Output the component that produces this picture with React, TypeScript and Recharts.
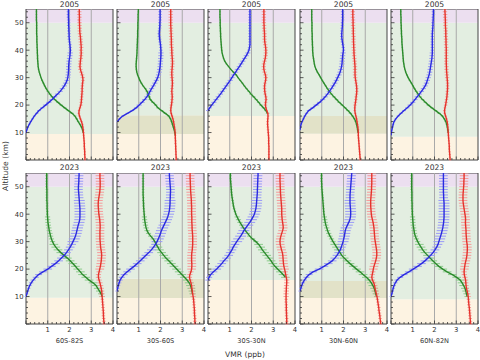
import React from 'react';
import { ScatterChart, Scatter, XAxis, YAxis, ReferenceArea, ReferenceLine, ErrorBar } from 'recharts';

const _ = null;
type V = number | null;

// altitude grid (km)
const ALT: number[] = [0,1,2,3,4,5,6,7,8,9,10,11,12,13,14,15,16,17,18,19,20,21,22,23,24,25,26,27,28,29,30,31,32,33,34,35,36,37,38,39,40,41,42,43,44,45,46,47,48,49,50,51,52,53,54,55];

// ---------- 2005 ----------
const red05_1: V[] = [2.71,2.71,2.7,2.7,2.69,2.68,2.68,2.67,2.66,2.65, 2.64,2.63,2.61,2.59,2.55,2.5,2.46,2.43,2.44,2.48, 2.52,2.54,2.55,2.56,2.57,2.58,2.58,2.59,2.6,2.62, 2.61,2.58,2.54,2.5,2.48,2.49,2.5,2.52,2.53,2.54, 2.53,2.54,2.53,2.52,2.51,2.5,2.48,2.47,2.47,2.46, 2.46,2.45,2.46,2.45,2.45,2.45];
const blue05_1: V[] = [_,_,_,_,_,_,_,_,_,_, 0,0.04,0.09,0.15,0.22,0.3,0.38,0.49,0.6,0.75, 0.9,1.05,1.2,1.32,1.45,1.57,1.67,1.76,1.83,1.89, 1.92,1.94,1.95,1.96,1.96,1.97,1.98,2.0,2.02,2.03, 2.04,2.03,2.02,2.0,1.99,1.98,1.98,1.97,1.97,1.96, 1.96,1.96,1.95,1.95,1.95,1.95];
const green05_1: V[] = [_,_,_,_,_,_,_,_,_,_, 2.63,2.6,2.55,2.48,2.4,2.33,2.25,2.12,1.95,1.78, 1.62,1.47,1.32,1.2,1.1,1.01,0.93,0.86,0.8,0.74, 0.69,0.65,0.61,0.58,0.56,0.55,0.54,0.53,0.53,0.52, 0.52,0.51,0.51,0.5,0.5,0.5,0.49,0.49,0.49,0.49, 0.49,0.48,0.48,0.48,0.48,0.48];

const red05_2: V[] = [2.72,2.72,2.71,2.71,2.7,2.7,2.69,2.69,2.68,2.68, 2.67,2.66,2.64,2.62,2.6,2.57,2.53,2.49,2.47,2.48, 2.5,2.52,2.53,2.54,2.53,2.52,2.53,2.54,2.55,2.54, 2.53,2.52,2.52,2.53,2.54,2.55,2.55,2.54,2.53,2.52, 2.52,2.51,2.5,2.5,2.5,2.49,2.49,2.48,2.48,2.47, 2.47,2.47,2.47,2.47,2.47,2.47];
const blue05_2: V[] = [_,_,_,_,_,_,_,_,_,_, _,_,_,_,0.02,0.12,0.26,0.48,0.7,0.88, 1.02,1.15,1.27,1.37,1.45,1.52,1.59,1.67,1.74,1.81, 1.87,1.91,1.94,1.96,1.98,1.99,2.0,2.01,2.02,2.02, 2.02,2.01,2.0,1.98,1.96,1.95,1.94,1.95,1.96,1.97, 1.97,1.98,1.98,1.98,1.98,1.98];
const green05_2: V[] = [_,_,_,_,_,_,_,_,_,2.68, 2.66,2.63,2.59,2.55,2.51,2.46,2.38,2.22,2.05,1.88, 1.78,1.65,1.53,1.48,1.44,1.38,1.3,1.2,1.12,1.05, 1.0,0.95,0.91,0.89,0.88,0.88,0.89,0.9,0.91,0.92, 0.92,0.93,0.93,0.94,0.94,0.95,0.95,0.95,0.96,0.96, 0.96,0.97,0.97,0.97,0.98,0.98];

const red05_3: V[] = [2.8,2.8,2.8,2.8,2.8,2.8,2.79,2.79,2.79,2.78, 2.77,2.76,2.75,2.74,2.74,2.75,2.76,2.75,2.7,2.66, 2.64,2.65,2.67,2.66,2.63,2.61,2.6,2.6,2.62,2.65, 2.66,2.64,2.6,2.57,2.56,2.57,2.6,2.63,2.65,2.66, 2.66,2.65,2.63,2.61,2.6,2.6,2.6,2.59,2.58,2.58, 2.57,2.57,2.57,2.57,2.57,2.57];
const blue05_3: V[] = [_,_,_,_,_,_,_,_,_,_, _,_,_,_,_,_,_,_,0,0.08, 0.17,0.27,0.37,0.47,0.57,0.66,0.75,0.84,0.93,1.02, 1.1,1.18,1.27,1.35,1.44,1.52,1.6,1.68,1.76,1.83, 1.88,1.91,1.93,1.93,1.93,1.93,1.93,1.93,1.93,1.93, 1.93,1.93,1.93,1.93,1.93,1.93];
const green05_3: V[] = [_,_,_,_,_,_,_,_,_,_, _,_,_,_,_,_,_,2.74,2.66,2.55, 2.43,2.33,2.22,2.1,1.98,1.88,1.77,1.67,1.58,1.48, 1.38,1.3,1.17,1.05,0.95,0.85,0.77,0.72,0.68,0.65, 0.63,0.62,0.61,0.6,0.59,0.58,0.58,0.57,0.57,0.56, 0.56,0.56,0.55,0.55,0.55,0.55];

const red05_4: V[] = [2.77,2.76,2.75,2.74,2.73,2.72,2.71,2.7,2.69,2.68, 2.68,2.67,2.66,2.64,2.62,2.6,2.57,2.54,2.52,2.52, 2.53,2.55,2.57,2.58,2.6,2.61,2.61,2.6,2.58,2.56, 2.54,2.53,2.53,2.53,2.53,2.52,2.51,2.5,2.49,2.48, 2.48,2.47,2.47,2.46,2.46,2.46,2.45,2.45,2.45,2.44, 2.44,2.44,2.43,2.43,2.43,2.43];
const blue05_4: V[] = [_,_,_,_,_,_,_,_,_,_, _,0,0.02,0.05,0.1,0.16,0.22,0.3,0.4,0.58, 0.74,0.9,1.04,1.16,1.26,1.35,1.44,1.52,1.6,1.67, 1.73,1.79,1.84,1.88,1.91,1.93,1.94,1.95,1.96,1.98, 2.0,1.99,1.97,1.95,1.93,1.92,1.92,1.93,1.94,1.95, 1.95,1.96,1.96,1.96,1.96,1.96];
const green05_4: V[] = [_,_,_,_,_,_,_,_,_,_, 2.67,2.65,2.63,2.6,2.56,2.5,2.42,2.32,2.2,2.07, 1.94,1.8,1.68,1.56,1.45,1.35,1.26,1.18,1.1,1.02, 0.95,0.88,0.8,0.74,0.69,0.66,0.64,0.62,0.6,0.59, 0.58,0.58,0.57,0.57,0.56,0.56,0.56,0.55,0.55,0.55, 0.55,0.54,0.54,0.54,0.54,0.54];

const red05_5: V[] = [2.72,2.71,2.7,2.69,2.68,2.68,2.67,2.66,2.65,2.64, 2.63,2.62,2.61,2.6,2.58,2.55,2.51,2.47,2.46,2.48, 2.51,2.53,2.55,2.57,2.58,2.59,2.6,2.6,2.6,2.59, 2.58,2.57,2.56,2.55,2.55,2.54,2.54,2.54,2.54,2.54, 2.54,2.54,2.53,2.53,2.53,2.52,2.52,2.52,2.51,2.5, 2.5,2.5,2.49,2.49,2.48,2.48];
const blue05_5: V[] = [_,_,_,_,_,_,_,_,_,0, 0.02,0.04,0.07,0.1,0.14,0.22,0.33,0.46,0.6,0.75, 0.88,1.0,1.1,1.2,1.3,1.4,1.49,1.57,1.63,1.67, 1.71,1.75,1.78,1.8,1.82,1.84,1.86,1.88,1.89,1.9, 1.9,1.9,1.9,1.9,1.9,1.9,1.9,1.91,1.92,1.93, 1.93,1.94,1.94,1.95,1.95,1.95];
const green05_5: V[] = [_,_,_,_,_,_,_,_,_,_, 2.63,2.61,2.59,2.56,2.52,2.45,2.36,2.22,2.05,1.88, 1.72,1.58,1.45,1.34,1.25,1.16,1.08,1.01,0.94,0.86, 0.79,0.73,0.68,0.64,0.61,0.59,0.57,0.56,0.55,0.54, 0.53,0.52,0.51,0.5,0.5,0.49,0.48,0.48,0.47,0.47, 0.46,0.46,0.46,0.45,0.45,0.45];

// ---------- 2023 ----------
const red23_1: V[] = [3.59,3.58,3.57,3.56,3.56,3.55,3.54,3.53,3.52,3.51, 3.5,3.49,3.48,3.46,3.43,3.4,3.36,3.33,3.33,3.36, 3.39,3.42,3.44,3.46,3.47,3.48,3.47,3.45,3.43,3.42, 3.41,3.4,3.4,3.4,3.4,3.41,3.41,3.4,3.39,3.37, 3.35,3.34,3.33,3.32,3.32,3.33,3.35,3.37,3.39,3.4, 3.41,3.41,3.41,3.4,3.4,3.4];
const blue23_1: V[] = [_,_,_,_,_,_,_,_,_,_, 0,0.04,0.08,0.12,0.17,0.24,0.33,0.45,0.58,0.78, 1.0,1.17,1.35,1.5,1.63,1.76,1.86,1.95,2.03,2.1, 2.16,2.22,2.27,2.31,2.34,2.37,2.4,2.44,2.47,2.48, 2.48,2.48,2.48,2.47,2.46,2.45,2.44,2.43,2.42,2.41, 2.41,2.42,2.43,2.43,2.44,2.44];
const green23_1: V[] = [_,_,_,_,_,_,_,_,_,_, 3.5,3.45,3.38,3.3,3.22,3.08,2.9,2.75,2.6,2.5, 2.38,2.27,2.15,2.03,1.9,1.75,1.6,1.47,1.37,1.28, 1.22,1.17,1.13,1.1,1.07,1.05,1.03,1.01,1.0,0.99, 0.98,0.98,0.97,0.97,0.97,0.96,0.96,0.96,0.96,0.96, 0.95,0.95,0.95,0.95,0.95,0.95];

const red23_2: V[] = [3.59,3.58,3.58,3.57,3.56,3.56,3.55,3.54,3.53,3.52, 3.5,3.48,3.46,3.44,3.43,3.4,3.36,3.33,3.35,3.4, 3.43,3.44,3.44,3.43,3.43,3.43,3.44,3.46,3.47,3.48, 3.48,3.48,3.48,3.47,3.46,3.45,3.45,3.44,3.44,3.44, 3.43,3.43,3.43,3.43,3.42,3.42,3.41,3.4,3.39,3.38, 3.38,3.37,3.37,3.36,3.36,3.36];
const blue23_2: V[] = [_,_,_,_,_,_,_,_,_,_, _,_,0,0.03,0.06,0.1,0.14,0.22,0.33,0.47, 0.62,0.78,0.93,1.07,1.2,1.33,1.46,1.58,1.68,1.77, 1.84,1.9,1.95,2.0,2.04,2.1,2.16,2.22,2.28,2.33, 2.37,2.4,2.42,2.43,2.44,2.44,2.45,2.45,2.46,2.46, 2.45,2.44,2.43,2.42,2.41,2.41];
const green23_2: V[] = [_,_,_,_,_,_,_,_,_,_, _,3.47,3.45,3.42,3.38,3.32,3.22,3.1,2.98,2.86, 2.74,2.62,2.5,2.38,2.25,2.15,2.05,1.95,1.88,1.8, 1.74,1.66,1.55,1.45,1.38,1.34,1.31,1.29,1.27,1.26, 1.25,1.24,1.23,1.22,1.22,1.21,1.21,1.2,1.2,1.2, 1.2,1.2,1.2,1.2,1.2,1.2];

const red23_3: V[] = [3.62,3.62,3.62,3.61,3.61,3.6,3.6,3.6,3.59,3.59, 3.59,3.59,3.6,3.6,3.61,3.62,3.62,3.6,3.57,3.55, 3.52,3.49,3.47,3.46,3.45,3.44,3.42,3.38,3.35,3.32, 3.31,3.32,3.35,3.39,3.43,3.46,3.45,3.43,3.41,3.4, 3.39,3.39,3.39,3.38,3.37,3.36,3.35,3.34,3.33,3.33, 3.32,3.32,3.31,3.31,3.31,3.31];
const blue23_3: V[] = [_,_,_,_,_,_,_,_,_,_, _,_,_,_,_,_,0,0.05,0.12,0.25, 0.4,0.52,0.63,0.73,0.85,0.95,1.02,1.1,1.16,1.24, 1.32,1.41,1.5,1.58,1.65,1.74,1.83,1.92,2.0,2.07, 2.13,2.17,2.2,2.22,2.23,2.24,2.25,2.26,2.27,2.27, 2.28,2.28,2.29,2.29,2.3,2.3];
const green23_3: V[] = [_,_,_,_,_,_,_,_,_,_, _,_,_,_,_,_,_,3.56,3.45,3.33, 3.2,3.08,2.98,2.9,2.8,2.7,2.6,2.5,2.42,2.33, 2.2,2.05,1.92,1.82,1.72,1.63,1.55,1.47,1.4,1.34, 1.28,1.24,1.2,1.17,1.15,1.13,1.11,1.09,1.08,1.07, 1.06,1.05,1.04,1.03,1.03,1.03];

const red23_4: V[] = [3.71,3.7,3.68,3.67,3.65,3.63,3.62,3.6,3.58,3.56, 3.54,3.51,3.48,3.45,3.43,3.39,3.33,3.3,3.32,3.35, 3.37,3.4,3.44,3.48,3.51,3.53,3.53,3.52,3.5,3.48, 3.46,3.44,3.43,3.42,3.41,3.4,3.38,3.36,3.33,3.3, 3.28,3.27,3.26,3.25,3.25,3.25,3.26,3.27,3.28,3.29, 3.29,3.3,3.3,3.3,3.3,3.3];
const blue23_4: V[] = [_,_,_,_,_,_,_,_,_,_, _,_,0,0.04,0.08,0.13,0.2,0.3,0.42,0.6, 0.88,1.1,1.3,1.48,1.6,1.7,1.78,1.85,1.9,1.94, 1.98,2.01,2.04,2.06,2.08,2.12,2.18,2.24,2.29,2.32, 2.33,2.33,2.32,2.31,2.3,2.3,2.3,2.3,2.31,2.32, 2.33,2.34,2.35,2.36,2.37,2.38];
const green23_4: V[] = [_,_,_,_,_,_,_,_,_,_, 3.52,3.48,3.45,3.41,3.35,3.28,3.18,3.05,2.9,2.76, 2.6,2.45,2.3,2.16,2.03,1.92,1.84,1.76,1.68,1.6, 1.52,1.45,1.38,1.32,1.27,1.23,1.19,1.16,1.14,1.12, 1.1,1.09,1.08,1.07,1.06,1.05,1.04,1.03,1.02,1.01, 1.0,1.0,0.99,0.99,0.99,0.99];

const red23_5: V[] = [3.66,3.65,3.64,3.63,3.62,3.61,3.6,3.58,3.57,3.56, 3.55,3.53,3.5,3.47,3.45,3.44,3.43,3.4,3.37,3.36, 3.37,3.39,3.41,3.44,3.47,3.49,3.5,3.51,3.51,3.5, 3.48,3.47,3.46,3.45,3.45,3.44,3.43,3.42,3.43,3.42, 3.4,3.38,3.36,3.34,3.32,3.31,3.31,3.31,3.32,3.33, 3.34,3.35,3.35,3.36,3.36,3.36];
const blue23_5: V[] = [_,_,_,_,_,_,_,_,_,_, 0,0.04,0.07,0.1,0.14,0.2,0.28,0.42,0.6,0.82, 1.02,1.22,1.4,1.56,1.7,1.82,1.93,2.02,2.1,2.16, 2.2,2.24,2.28,2.32,2.35,2.38,2.4,2.42,2.43,2.44, 2.44,2.44,2.44,2.44,2.44,2.43,2.42,2.42,2.41,2.41, 2.41,2.41,2.41,2.41,2.41,2.41];
const green23_5: V[] = [_,_,_,_,_,_,_,_,_,_, 3.5,3.47,3.44,3.4,3.34,3.27,3.18,3.02,2.82,2.58, 2.38,2.2,2.05,1.92,1.8,1.68,1.56,1.46,1.38,1.3, 1.23,1.17,1.12,1.08,1.06,1.04,1.02,1.01,1.0,0.99, 0.98,0.98,0.97,0.97,0.97,0.96,0.96,0.96,0.96,0.95, 0.95,0.95,0.95,0.95,0.95,0.95];

// ---------- uncertainties (ppb, half-width) ----------
const errRed05: number[] = [0.05,0.05,0.05,0.05,0.05,0.05,0.05,0.05,0.05,0.05, 0.06,0.06,0.06,0.06,0.06,0.06,0.06,0.06,0.06,0.06, 0.08,0.08,0.08,0.08,0.08,0.08,0.08,0.08,0.08,0.08, 0.1,0.1,0.1,0.1,0.1,0.1,0.1,0.1,0.1,0.1, 0.1,0.1,0.1,0.1,0.1,0.1,0.1,0.1,0.1,0.1, 0.1,0.1,0.1,0.1,0.1,0.1];
const errBlue05: number[] = [0,0,0,0,0,0,0,0,0,0, 0.04,0.04,0.05,0.05,0.06,0.06,0.07,0.08,0.09,0.1, 0.12,0.12,0.12,0.12,0.12,0.12,0.12,0.12,0.12,0.12, 0.12,0.12,0.12,0.12,0.12,0.12,0.12,0.12,0.12,0.12, 0.08,0.08,0.08,0.08,0.08,0.08,0.08,0.08,0.08,0.08, 0.08,0.08,0.08,0.08,0.08,0.08];
const errGreen05: number[] = [0,0,0,0,0,0,0,0,0,0, 0.04,0.04,0.05,0.05,0.06,0.06,0.07,0.08,0.08,0.08, 0.08,0.08,0.08,0.08,0.08,0.07,0.06,0.05,0.05,0.05, 0.04,0.04,0.04,0.04,0.04,0.04,0.04,0.04,0.04,0.04, 0.04,0.04,0.04,0.04,0.04,0.04,0.04,0.04,0.04,0.04, 0.04,0.04,0.04,0.04,0.04,0.04];
const errRed23: number[] = [0.08,0.08,0.08,0.08,0.08,0.08,0.08,0.08,0.08,0.08, 0.12,0.12,0.12,0.12,0.12,0.12,0.12,0.12,0.12,0.12, 0.2,0.2,0.2,0.2,0.2,0.2,0.2,0.2,0.2,0.2, 0.2,0.2,0.2,0.2,0.2,0.2,0.2,0.2,0.2,0.2, 0.2,0.2,0.2,0.2,0.2,0.2,0.2,0.2,0.2,0.2, 0.2,0.2,0.2,0.2,0.2,0.2];
const errBlue23: number[] = [0,0,0,0,0,0,0,0,0,0, 0.06,0.06,0.07,0.08,0.09,0.1,0.12,0.14,0.16,0.18, 0.2,0.2,0.2,0.2,0.2,0.2,0.2,0.2,0.2,0.2, 0.25,0.25,0.25,0.25,0.25,0.25,0.25,0.25,0.25,0.25, 0.25,0.25,0.25,0.25,0.25,0.25,0.2,0.2,0.2,0.2, 0.2,0.2,0.2,0.2,0.2,0.2];
const errGreen23: number[] = [0,0,0,0,0,0,0,0,0,0, 0.12,0.14,0.16,0.18,0.2,0.2,0.2,0.2,0.2,0.2, 0.2,0.2,0.2,0.2,0.2,0.2,0.2,0.2,0.2,0.2, 0.12,0.12,0.12,0.12,0.12,0.12,0.12,0.12,0.12,0.12, 0.06,0.06,0.06,0.06,0.06,0.06,0.06,0.06,0.06,0.06, 0.06,0.06,0.06,0.06,0.06,0.06];

// ---------- labels / regions ----------
const YEARS = ['2005', '2023'];
const REGIONS = ['60S-82S', '30S-60S', '30S-30N', '30N-60N', '60N-82N'];
const X_TICKS = [0,0.2,0.4,0.6,0.8,1,1.2,1.4,1.6,1.8,2,2.2,2.4,2.6,2.8,3,3.2,3.4,3.6,3.8,4];
const Y_TICKS = [0,2,4,6,8,10,12,14,16,18,20,22,24,26,28,30,32,34,36,38,40,42,44,46,48,50,52,54];
const GRID_X = [1, 2, 3];
// tropopause band limits per row (km)
const TROP_LOW = [[9.5, 9.5, 16, 9.6, 8.5], [9.6, 9.5, 16, 9.5, 9]];
const TROP_HIGH = [[9.5, 16.3, 16, 16, 8.5], [9.6, 16.5, 16, 15.7, 9]];
const STRAT_TOP = 50;
const ALT_MAX = 55;
const X_MAX = 4;

const SERIES = [
  [
    { red: red05_1, blue: blue05_1, green: green05_1 },
    { red: red05_2, blue: blue05_2, green: green05_2 },
    { red: red05_3, blue: blue05_3, green: green05_3 },
    { red: red05_4, blue: blue05_4, green: green05_4 },
    { red: red05_5, blue: blue05_5, green: green05_5 },
  ],
  [
    { red: red23_1, blue: blue23_1, green: green23_1 },
    { red: red23_2, blue: blue23_2, green: green23_2 },
    { red: red23_3, blue: blue23_3, green: green23_3 },
    { red: red23_4, blue: blue23_4, green: green23_4 },
    { red: red23_5, blue: blue23_5, green: green23_5 },
  ],
];
const ERRS = [
  { red: errRed05, blue: errBlue05, green: errGreen05 },
  { red: errRed23, blue: errBlue23, green: errGreen23 },
];

// ---------- style ----------
const FONT = '"DejaVu Sans", sans-serif';
const TXT = '#333333';
const COL = {
  blue: '#2a2ae0', blueErr: '#9a9af6',
  green: '#2b8a2b', greenErr: '#8ccc8c',
  red: '#e5332b', redErr: '#f59a9a',
  pink: '#ecdff0', strat: '#e3eee1', trop: '#fdf3e2', overlap: '#e2e2c8',
  grid: '#a9a9a9', frame: '#444444',
};
const COL_LEFT = [26, 117, 208, 300, 391];
const ROW_TOP = [9, 173];
const PW = 87;
const PH = 151;
const YW = 24;
const XH = 14;
const MR = 6;

function build(vals: V[], errs: number[]) {
  const out: { alt: number; v: number; e: number }[] = [];
  for (let i = 0; i < ALT.length; i++) {
    const v = vals[i];
    if (v !== null && v !== undefined) out.push({ alt: ALT[i], v, e: errs[i] });
  }
  return out;
}

const NoShape = () => <g />;

function makeXTick(showLabel: boolean) {
  return (props: any) => {
    const { x, y, payload } = props;
    const v = payload.value as number;
    const major = Math.abs(v - Math.round(v)) < 1e-6;
    return (
      <g>
        <line x1={x} x2={x} y1={y} y2={y - (major ? 3.5 : 2)} stroke={TXT} strokeWidth={0.8} />
        {showLabel && major && v > 0 ? (
          <text x={x} y={y + 7.6} textAnchor="middle" fontSize={6.8} fill={TXT} fontFamily={FONT}>{v}</text>
        ) : null}
      </g>
    );
  };
}

function makeYTick(showLabel: boolean) {
  return (props: any) => {
    const { x, y, payload } = props;
    const v = payload.value as number;
    const major = v % 10 === 0;
    return (
      <g>
        <line x1={x} x2={x + (major ? 3.5 : 2)} y1={y} y2={y} stroke={TXT} strokeWidth={0.8} />
        {showLabel && major && v > 0 ? (
          <text x={x - 2.5} y={y + 2.4} textAnchor="end" fontSize={6.8} fill={TXT} fontFamily={FONT}>{v}</text>
        ) : null}
      </g>
    );
  };
}

function Panel({ row, col }: { row: number; col: number }) {
  const s = SERIES[row][col];
  const e = ERRS[row];
  const lo = TROP_LOW[row][col];
  const hi = TROP_HIGH[row][col];
  const order: ('green' | 'blue' | 'red')[] = ['green', 'blue', 'red'];
  return (
    <div style={{ position: 'absolute', left: COL_LEFT[col] - YW, top: ROW_TOP[row] }}>
      <ScatterChart width={YW + PW + MR} height={PH + XH} margin={{ top: 0, right: MR, bottom: 0, left: 0 }}>
        <XAxis type="number" dataKey="v" domain={[0, X_MAX]} allowDataOverflow ticks={X_TICKS} interval={0}
          height={XH} tickSize={0} tickMargin={0} tickLine={false} axisLine={false} tick={makeXTick(row === 1)} />
        <YAxis type="number" dataKey="alt" domain={[0, ALT_MAX]} allowDataOverflow ticks={Y_TICKS} interval={0}
          width={YW} tickSize={0} tickMargin={0} tickLine={false} axisLine={false} tick={makeYTick(col === 0)} />
        <ReferenceArea x1={0} x2={X_MAX} y1={0} y2={lo} fill={COL.trop} fillOpacity={1} stroke="none" />
        {hi > lo ? <ReferenceArea x1={0} x2={X_MAX} y1={lo} y2={hi} fill={COL.overlap} fillOpacity={1} stroke="none" /> : null}
        <ReferenceArea x1={0} x2={X_MAX} y1={hi} y2={STRAT_TOP} fill={COL.strat} fillOpacity={1} stroke="none" />
        <ReferenceArea x1={0} x2={X_MAX} y1={STRAT_TOP} y2={ALT_MAX} fill={COL.pink} fillOpacity={1} stroke="none" />
        {GRID_X.map((g) => (
          <ReferenceLine key={g} x={g} stroke={COL.grid} strokeWidth={1} />
        ))}
        {order.map((k) => (
          <Scatter key={k} data={build(s[k], e[k])} line={{ stroke: (COL as any)[k], strokeWidth: 1.4 }}
            shape={NoShape} isAnimationActive={false} legendType="none">
            <ErrorBar dataKey="e" direction="x" width={0} stroke={(COL as any)[k + 'Err']} strokeWidth={1} isAnimationActive={false} />
          </Scatter>
        ))}
        <ReferenceArea x1={0} x2={X_MAX} y1={0} y2={ALT_MAX} fill="none" stroke={COL.frame} strokeWidth={1} />
      </ScatterChart>
    </div>
  );
}

export default function App() {
  const panels: React.ReactNode[] = [];
  for (let r = 0; r < 2; r++) for (let c = 0; c < 5; c++) panels.push(<Panel key={`${r}-${c}`} row={r} col={c} />);
  return (
    <div style={{ position: 'absolute', left: 0, top: 0, width: 480, height: 360, background: '#fff', overflow: 'hidden' }}>
      {panels}
      <svg width={480} height={360} style={{ position: 'absolute', left: 0, top: 0, pointerEvents: 'none' }}>
        {YEARS.map((yr, r) =>
          COL_LEFT.map((cl, c) => (
            <text key={`${r}-${c}`} x={cl + PW / 2} y={r === 0 ? 6.5 : 170} textAnchor="middle" fontSize={7.6} fill={TXT} fontFamily={FONT}>{yr}</text>
          ))
        )}
        {REGIONS.map((rg, c) => (
          <text key={rg} x={COL_LEFT[c] + PW / 2} y={342.5} textAnchor="middle" fontSize={6.6} fill={TXT} fontFamily={FONT}>{rg}</text>
        ))}
        <text x={245} y={357} textAnchor="middle" fontSize={7.6} fill={TXT} fontFamily={FONT}>VMR (ppb)</text>
        <text x={7.5} y={166} textAnchor="middle" fontSize={7.6} fill={TXT} fontFamily={FONT} transform="rotate(-90 7.5 166)">Altitude (km)</text>
      </svg>
    </div>
  );
}
